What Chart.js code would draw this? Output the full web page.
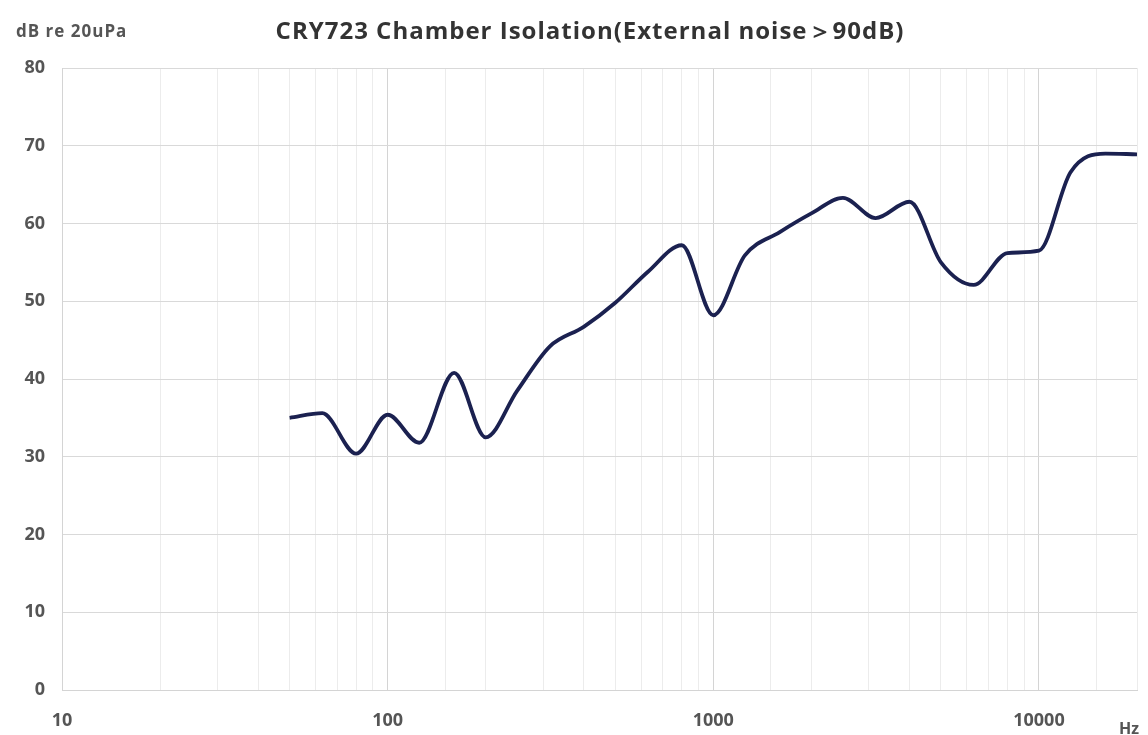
<!DOCTYPE html>
<html>
<head>
<meta charset="utf-8">
<script src="https://cdn.jsdelivr.net/npm/chart.js@4"></script>
<style>
  html, body { margin: 0; padding: 0; background: #fff; }
  #wrap { width: 1148px; height: 735px; }
</style>
</head>
<body>
<div id="wrap"><canvas id="chart"></canvas></div>
<script>
// 1/3 octave frequencies (Hz) and chamber isolation level (dB re 20uPa)
const freqs = [50, 63, 80, 100, 125, 160, 200, 250, 315, 400, 500, 630, 800,
  1000, 1250, 1600, 2000, 2500, 3150, 4000, 5000, 6300, 8000, 10000, 12500, 16000, 20000];
const levels = [35.0, 35.6, 30.4, 35.4, 31.8, 40.8, 32.5, 38.5, 44.2, 46.7, 49.8, 53.8, 57.2,
  48.2, 55.9, 58.9, 61.3, 63.3, 60.7, 62.8, 55.0, 52.1, 56.2, 56.5, 66.6, 69.0, 68.9];
const xLabels = [10, 100, 1000, 10000];
const titleText = "CRY723 Chamber Isolation(External noise\uFF1E90dB)";
const unitText = "dB re 20uPa";
const xUnitText = "Hz";

const fontFamily = "'Open Sans', 'Noto Sans', sans-serif";

const textPlugin = {
  id: "texts",
  afterDraw(chart) {
    const ctx = chart.ctx;
    ctx.save();
    ctx.fillStyle = "#333";
    ctx.textBaseline = "middle";
    ctx.textAlign = "center";
    ctx.letterSpacing = "1px";
    ctx.font = "bold 24px " + fontFamily;
    ctx.fillText(titleText, 590, 32);
    ctx.fillStyle = "#555";
    ctx.textAlign = "left";
    ctx.letterSpacing = "1px";
    ctx.font = "bold 17px " + fontFamily;
    ctx.fillText(unitText, 16, 32);
    ctx.letterSpacing = "0px";
    ctx.font = "bold 16px " + fontFamily;
    ctx.fillText(xUnitText, 1119, 729);
    ctx.restore();
  }
};

new Chart(document.getElementById("chart"), {
  type: "line",
  data: {
    datasets: [{
      data: freqs.map((f, i) => ({ x: f, y: levels[i] })),
      borderColor: "#1b2150",
      borderWidth: 3.8,
      pointRadius: 0,
      cubicInterpolationMode: "monotone",
      fill: false
    }]
  },
  options: {
    responsive: true,
    maintainAspectRatio: false,
    animation: false,
    layout: { padding: { top: 68, right: 11, left: 0, bottom: 0 } },
    plugins: {
      legend: { display: false },
      tooltip: { enabled: false }
    },
    scales: {
      x: {
        type: "logarithmic",
        min: 10,
        max: 20000,
        afterFit(scale) {
          scale.height = 45;
          scale.paddingLeft = 0;
          scale.paddingRight = 0;
        },
        grid: {
          drawTicks: false,
          color: (c) => xLabels.includes(c.tick && c.tick.value) ? "#d4d4d4" : "#ececec",
          lineWidth: 1
        },
        border: { color: "#d4d4d4" },
        ticks: {
          autoSkip: false,
          maxRotation: 0,
          padding: 20,
          color: "#555",
          font: { family: fontFamily, size: 18, weight: "bold" },
          callback: (v) => xLabels.includes(v) ? String(v) : ""
        }
      },
      y: {
        min: 0,
        max: 80,
        afterFit(scale) { scale.width = 62; },
        grid: { drawTicks: false, color: "#d9d9d9" },
        border: { color: "#d4d4d4" },
        ticks: {
          stepSize: 10,
          padding: 17,
          color: "#555",
          font: { family: fontFamily, size: 18, weight: "bold" }
        }
      }
    }
  },
  plugins: [textPlugin]
});
</script>
</body>
</html>
